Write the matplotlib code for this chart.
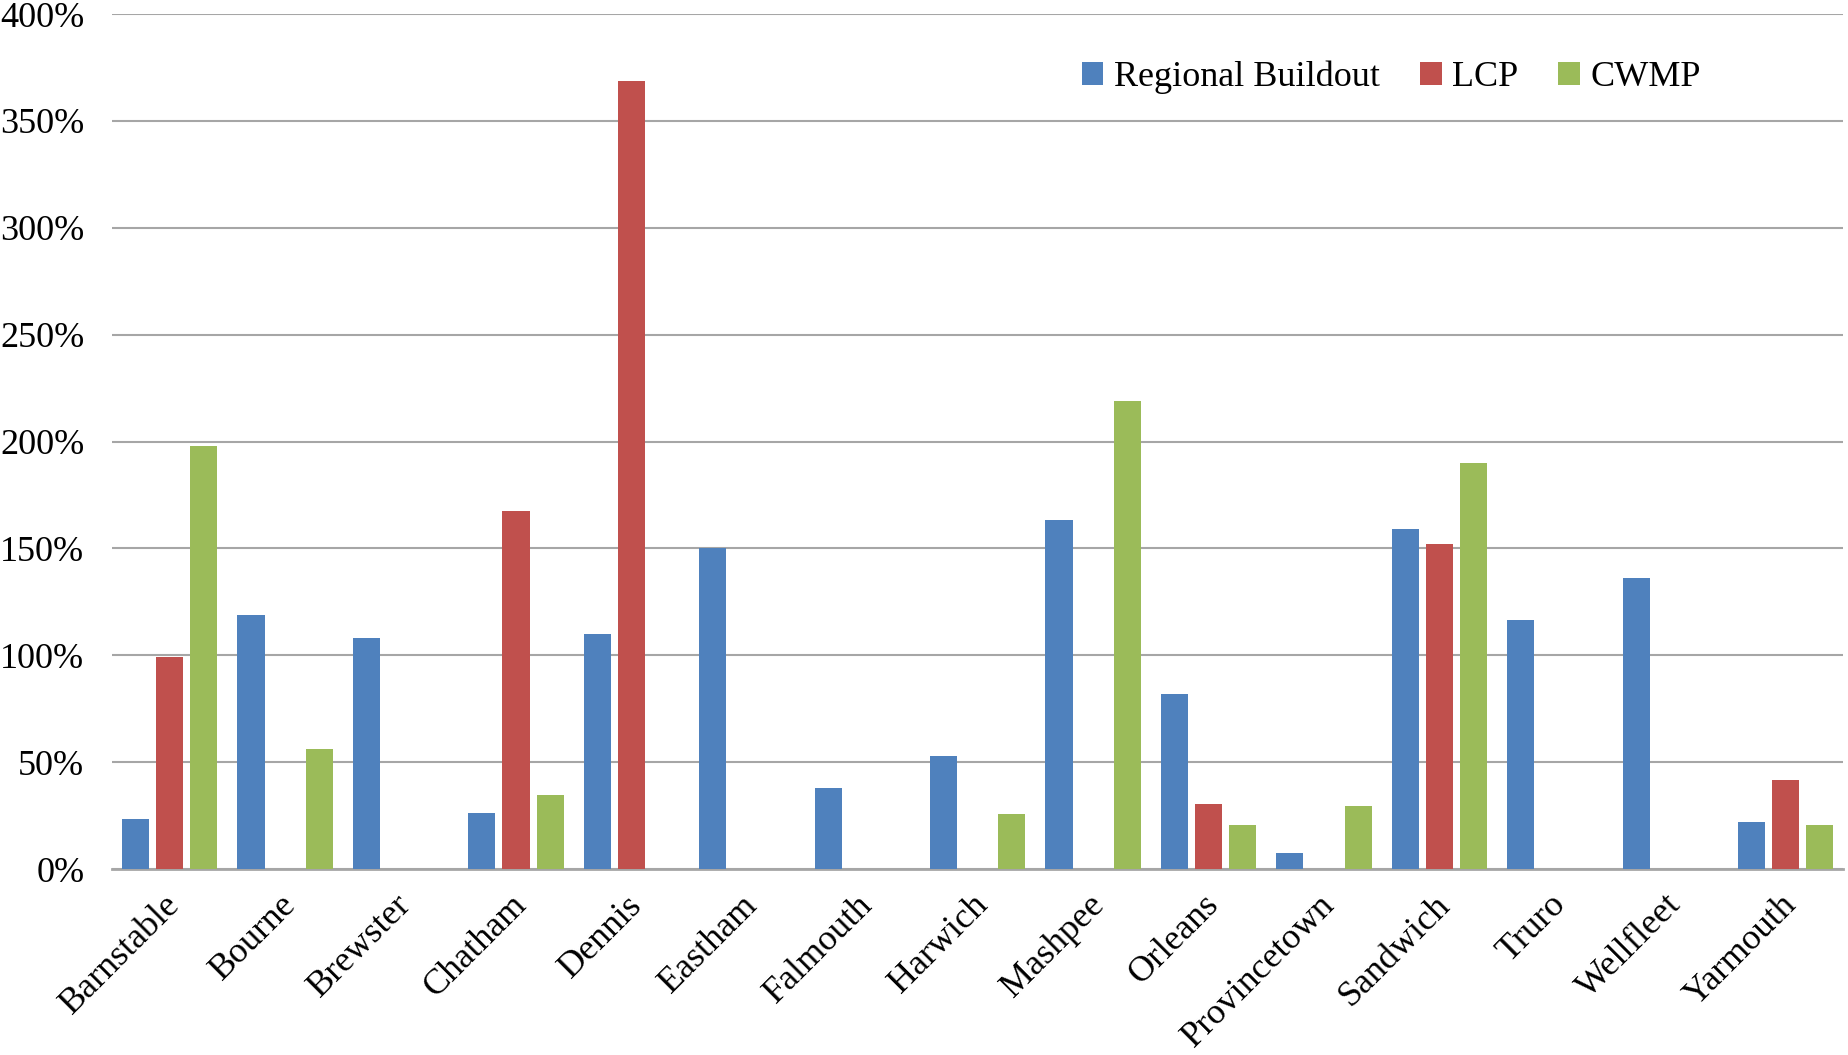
import numpy as np
import matplotlib.pyplot as plt
import matplotlib as mpl
from matplotlib.transforms import ScaledTranslation

towns = ["Barnstable", "Bourne", "Brewster", "Chatham", "Dennis", "Eastham",
         "Falmouth", "Harwich", "Mashpee", "Orleans", "Provincetown",
         "Sandwich", "Truro", "Wellfleet", "Yarmouth"]
series = ["Regional Buildout", "LCP", "CWMP"]
regional = [23.5, 119, 108, 26.3, 110, 150, 38, 53, 163.4, 82, 7.5, 159.3, 116.6, 136, 22.2]
lcp = [99, 0, 0, 167.3, 368.5, 0, 0, 0, 0, 30.2, 0, 152, 0, 0, 41.8]
cwmp = [198, 56.3, 0, 34.7, 0, 0, 0, 25.7, 219, 20.5, 29.6, 190, 0, 0, 20.5]
colors = ["#4F81BD", "#C0504D", "#9BBB59"]

if __name__ == '__main__':
    mpl.rcParams['font.family'] = ['Liberation Serif', 'DejaVu Serif']

    fig = plt.figure(figsize=(18.49, 10.55), dpi=100)
    ax = fig.add_axes([0.0606, 0.1763, 0.9364, 0.8104])

    x = np.arange(len(towns))
    step = 0.296
    width = 0.235
    for i, (vals, name) in enumerate(zip([regional, lcp, cwmp], series)):
        ax.bar(x + (i - 1) * step, vals, width, color=colors[i], label=name, zorder=3)

    ax.set_xlim(-0.5, len(towns) - 0.5)
    ax.set_ylim(0, 400)
    ax.set_yticks(np.arange(0, 401, 50))
    ax.set_yticklabels(["%d%%" % v for v in range(0, 401, 50)], fontsize=26)
    ax.yaxis.grid(True, color="#A6A6A6", linewidth=1.5, zorder=0)
    ax.tick_params(axis='y', length=0, pad=20)
    ax.tick_params(axis='x', length=0, pad=14)
    ax.set_xticks(x)
    ax.set_xticklabels(towns, rotation=45, ha='right', rotation_mode='anchor', fontsize=26)
    shift = ScaledTranslation(-6 / 100, 0, fig.dpi_scale_trans)
    for lbl in ax.get_xticklabels():
        lbl.set_transform(lbl.get_transform() + shift)

    for s in ['top', 'right', 'left']:
        ax.spines[s].set_visible(False)
    ax.spines['bottom'].set_color("#A6A6A6")
    ax.spines['bottom'].set_linewidth(2)

    ax.legend(loc='center', bbox_to_anchor=(0.739, 0.926), ncol=3, frameon=False,
              fontsize=26, handlelength=0.6, handleheight=0.6, handletextpad=0.3,
              columnspacing=1.1)

    fig.savefig("out.png", dpi=100)
